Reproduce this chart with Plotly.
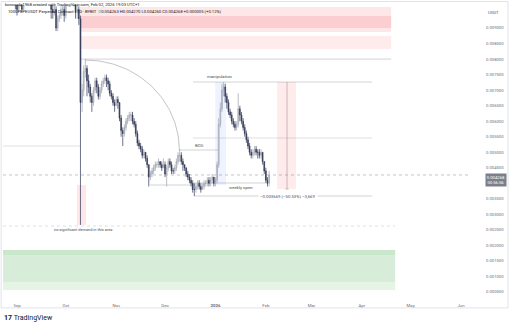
import numpy as np
import pandas as pd
import plotly.graph_objects as go

# ---------------- data (daily candles, 1000PEPEUSDT perp) ----------------
dates = pd.date_range("2025-08-23", "2026-02-03", freq="D")

closes = [
    # Aug 23-31
    0.0112, 0.0110, 0.0104, 0.0106, 0.0105, 0.0104, 0.0100, 0.0101, 0.0099,
    # Sep
    0.0096, 0.0099, 0.0098, 0.0096, 0.0099, 0.0100, 0.0101, 0.0104, 0.0105, 0.0108,
    0.0111, 0.0114, 0.0113, 0.0110, 0.0105, 0.0107, 0.0110, 0.0111, 0.0105, 0.0105,
    0.0102, 0.0096, 0.0095, 0.0096, 0.0090, 0.0093, 0.0094, 0.0096, 0.0096, 0.0094,
    # Oct
    0.0098, 0.0101, 0.0102, 0.0100, 0.0101, 0.0100, 0.0095, 0.0096, 0.0093, 0.0066,
    0.0070, 0.0076, 0.0077, 0.0073, 0.0071, 0.0068, 0.0066, 0.0070, 0.0073, 0.0071,
    0.0068, 0.0070, 0.0072, 0.0073, 0.0074, 0.0073, 0.0072, 0.0069, 0.0068, 0.0066,
    0.0065,
    # Nov
    0.0067, 0.0066, 0.0061, 0.0057, 0.0056, 0.0058, 0.0060, 0.0061, 0.0062, 0.0062,
    0.0060, 0.0059, 0.0056, 0.0053, 0.0052, 0.0051, 0.0049, 0.0050, 0.0048, 0.0046,
    0.0042, 0.0043, 0.0044, 0.0045, 0.0046, 0.0046, 0.0047, 0.0046, 0.0045, 0.0046,
    # Dec
    0.0043, 0.0045, 0.0047, 0.0046, 0.0044, 0.0044, 0.0045, 0.0047, 0.0049, 0.0049,
    0.0047, 0.0046, 0.0045, 0.0043, 0.0042, 0.0041, 0.0040, 0.0038, 0.0038, 0.0039,
    0.0040, 0.0039, 0.0038, 0.0039, 0.0040, 0.0040, 0.0041, 0.0040, 0.0041, 0.0042,
    0.0040,
    # Jan
    0.0041, 0.0046, 0.0059, 0.0064, 0.0070, 0.0071, 0.0068, 0.0066, 0.0063, 0.0062,
    0.0060, 0.0059, 0.0058, 0.0059, 0.0064, 0.0062, 0.0060, 0.0058, 0.0056, 0.0054,
    0.0052, 0.0050, 0.0049, 0.0050, 0.0051, 0.0050, 0.0050, 0.0049, 0.0050, 0.0047,
    0.0044,
    # Feb 1-3
    0.0041, 0.0040, 0.004268,
]

highs = [
    0.0116, 0.0114, 0.0111, 0.0108, 0.0108, 0.0107, 0.0105, 0.0102, 0.0102,
    0.0100, 0.0100, 0.0101, 0.0099, 0.0101, 0.0101, 0.0102, 0.0106, 0.0107, 0.0110,
    0.0113, 0.0116, 0.0117, 0.0115, 0.0111, 0.0108, 0.0112, 0.0113, 0.0111, 0.0107,
    0.0106, 0.0102, 0.0098, 0.0098, 0.0097, 0.0094, 0.0095, 0.0097, 0.0098, 0.0097,
    0.0100, 0.0103, 0.0105, 0.0103, 0.0104, 0.0104, 0.0101, 0.0098, 0.0097, 0.0094,
    0.0072, 0.0078, 0.0080, 0.0078, 0.0075, 0.0072, 0.0069, 0.0071, 0.0074, 0.0074,
    0.0072, 0.0071, 0.0073, 0.0074, 0.0075, 0.0075, 0.0074, 0.0073, 0.0070, 0.0069,
    0.0067,
    0.0068, 0.0068, 0.0066, 0.0062, 0.0058, 0.0059, 0.0061, 0.0062, 0.0063, 0.0063,
    0.0063, 0.0061, 0.0060, 0.0057, 0.0054, 0.0053, 0.0052, 0.0051, 0.0050, 0.0049,
    0.0046, 0.0044, 0.0045, 0.0046, 0.0047, 0.0047, 0.0048, 0.0047, 0.0047, 0.0048,
    0.0047, 0.0046, 0.0048, 0.0048, 0.0047, 0.0045, 0.0046, 0.0048, 0.0050, 0.0051,
    0.0050, 0.0048, 0.0046, 0.0045, 0.0044, 0.0043, 0.0042, 0.0041, 0.0040, 0.0040,
    0.0041, 0.0041, 0.0040, 0.0040, 0.0041, 0.0041, 0.0042, 0.0042, 0.0042, 0.0043,
    0.0042,
    0.0042, 0.0047, 0.0061, 0.0066, 0.0072, 0.00726, 0.0072, 0.0069, 0.0067, 0.0064,
    0.0063, 0.0061, 0.0060, 0.0060, 0.0069, 0.0065, 0.0063, 0.0061, 0.0059, 0.0057,
    0.0055, 0.0053, 0.0051, 0.0051, 0.0052, 0.0052, 0.0051, 0.0051, 0.0051, 0.0050,
    0.0047,
    0.0045, 0.0042, 0.0044,
]

lows = [
    0.0109, 0.0107, 0.0102, 0.0102, 0.0103, 0.0102, 0.0098, 0.0098, 0.0096,
    0.0094, 0.0095, 0.0097, 0.0095, 0.0096, 0.0098, 0.0099, 0.0100, 0.0102, 0.0104,
    0.0107, 0.0110, 0.0111, 0.0108, 0.0103, 0.0104, 0.0104, 0.0108, 0.0103, 0.0103,
    0.0100, 0.0093, 0.0093, 0.0094, 0.0089, 0.0089, 0.0092, 0.0093, 0.0094, 0.0092,
    0.0093, 0.0097, 0.0100, 0.0098, 0.0099, 0.0097, 0.0093, 0.0093, 0.0091, 0.00266,
    0.0063, 0.0068, 0.0074, 0.0068, 0.0069, 0.0066, 0.0063, 0.0065, 0.0069, 0.0069,
    0.0067, 0.0067, 0.0069, 0.0071, 0.0072, 0.0071, 0.0070, 0.0068, 0.0067, 0.0065,
    0.0063,
    0.0065, 0.0064, 0.0060, 0.0055, 0.0052, 0.0055, 0.0057, 0.0059, 0.0060, 0.0060,
    0.0059, 0.0058, 0.0055, 0.0052, 0.0051, 0.0050, 0.0048, 0.0048, 0.0047, 0.0045,
    0.0039, 0.0041, 0.0042, 0.0043, 0.0044, 0.0045, 0.0045, 0.0045, 0.0044, 0.0045,
    0.0042, 0.0039, 0.0044, 0.0045, 0.0043, 0.0043, 0.0043, 0.0044, 0.0046, 0.0047,
    0.0046, 0.0044, 0.0044, 0.0042, 0.0041, 0.0040, 0.0039, 0.0037, 0.00359, 0.0037,
    0.0038, 0.0038, 0.0037, 0.0038, 0.0038, 0.0039, 0.0039, 0.0039, 0.0039, 0.0040,
    0.0039,
    0.0039, 0.0040, 0.0045, 0.0058, 0.0063, 0.0068, 0.0066, 0.0064, 0.0062, 0.0061,
    0.0059, 0.0058, 0.0057, 0.0057, 0.0058, 0.0060, 0.0059, 0.0057, 0.0055, 0.0053,
    0.0051, 0.0049, 0.0048, 0.0048, 0.0049, 0.0049, 0.0048, 0.0048, 0.0048, 0.0046,
    0.0043,
    0.0040, 0.0039, 0.0039,
]

first_open = 0.0114
opens = [first_open] + closes[:-1]   # 24/7 market: open = previous close

price_ticks = [round(0.0005 * i, 6) for i in range(1, 19)]
price_ticktext = [f"{v:.6f}" for v in price_ticks]
month_ticks = ["2025-09-01", "2025-10-01", "2025-11-01", "2025-12-01", "2026-01-01",
               "2026-02-01", "2026-03-01", "2026-04-01", "2026-05-01", "2026-06-01"]
month_labels = ["Sep", "Oct", "Nov", "Dec", "<b>2026</b>", "Feb", "Mar", "Apr", "May", "Jun"]

last_price = closes[-1]

# ---------------- figure ----------------
X0, X1 = "2025-08-23 09:00", "2026-06-06 12:00"
Y0, Y1 = 0.000307, 0.009741

fig = go.Figure()

# arc drawing (curve tool)
t = np.linspace(0, np.pi / 2, 60)
arc_center = pd.Timestamp("2025-10-13")
arc_x = [arc_center + pd.Timedelta(days=float(57.8 * np.sin(a))) for a in t]
arc_y = 0.00507 + 0.002898 * np.cos(t)
fig.add_trace(go.Scatter(x=arc_x, y=arc_y, mode="lines",
                         line=dict(color="#a9abb3", width=0.7), hoverinfo="skip"))

fig.add_trace(go.Candlestick(
    x=dates, open=opens, high=highs, low=lows, close=closes,
    increasing=dict(line=dict(color="#9ea2ad", width=0.7), fillcolor="#d6d9e0"),
    decreasing=dict(line=dict(color="#2e3555", width=0.7), fillcolor="#2e3555"),
    whiskerwidth=0,
))

GREY = "#b2b5be"
shapes = []
def rect(x0, x1, y0, y1, color, layer="below"):
    shapes.append(dict(type="rect", xref="x", yref="y", x0=x0, x1=x1, y0=y0, y1=y1,
                       fillcolor=color, line=dict(width=0), layer=layer))
def hline(x0, x1, y, color=GREY, width=0.6, dash="solid"):
    shapes.append(dict(type="line", xref="x", yref="y", x0=x0, x1=x1, y0=y, y1=y,
                       line=dict(color=color, width=width, dash=dash), layer="below"))

# supply zones (top)
rect("2025-10-09 18:00", "2026-04-19", 0.008871, 0.009676, "rgba(242,54,69,0.12)")
rect("2025-10-09 18:00", "2026-04-19", 0.0090, 0.009386, "rgba(242,54,69,0.14)")
rect("2025-10-09 18:00", "2026-04-19", 0.008324, 0.008742, "rgba(242,54,69,0.10)")
hline("2025-10-10", "2026-04-19", 0.0080)
# demand zone (bottom)
rect(X0, "2026-04-21 12:00", 0.001691, 0.001852, "rgba(76,175,80,0.30)")
rect(X0, "2026-04-21 12:00", 0.000822, 0.001691, "rgba(76,175,80,0.22)")
rect(X0, "2026-04-21 12:00", 0.000564, 0.000822, "rgba(76,175,80,0.14)")
hline(X0, "2026-04-21 12:00", 0.002625, color="#c8cad0", dash="dot")
hline(X0, "2025-10-09 18:00", 0.0052, color="#c8cad0")
# crash wick highlight
rect("2025-10-07 22:00", "2025-10-13 10:00", 0.002657, 0.003945, "rgba(242,54,69,0.12)")
# structure lines
hline("2025-12-09 14:00", "2026-01-02 14:00", 0.005072)
hline("2025-11-21 20:00", "2025-12-19 12:00", 0.003945)
hline("2025-12-18 05:00", "2026-01-31 12:00", 0.00401)
hline("2025-12-18 05:00", "2026-04-07 07:00", 0.007261)
hline("2025-12-18 05:00", "2026-04-07 07:00", 0.005458, color="#c8cad0")
hline("2025-12-18 22:00", "2026-04-07 07:00", 0.003591)
rect("2025-12-31 19:00", "2026-01-07 12:00", 0.003945, 0.007261, "rgba(41,98,255,0.08)")
# price range tool
rect("2026-02-07 22:00", "2026-02-19 14:00", 0.003816, 0.007261, "rgba(242,54,69,0.10)")
shapes.append(dict(type="line", xref="x", yref="y", x0="2026-02-14", x1="2026-02-14",
                   y0=0.007261, y1=0.003816, line=dict(color="#c99aa0", width=0.7)))
hline("2026-02-13", "2026-02-15", 0.003816, color="#c99aa0", width=0.7)
# current price line
shapes.append(dict(type="line", xref="paper", yref="y", x0=0, x1=1, y0=last_price, y1=last_price,
                   line=dict(color="#9598a1", width=0.6, dash="dot"), layer="below"))
# frame
shapes.append(dict(type="rect", xref="paper", yref="paper", x0=-0.004, x1=1.0815, y0=-0.0338, y1=1.012,
                   line=dict(color="#e0e3eb", width=1), fillcolor="rgba(0,0,0,0)", layer="below"))

TXT = "#4a4e59"
FONT = "Roboto"
ann = []
def label(x, y, text, size=4.3, color=TXT, **kw):
    d = dict(x=x, y=y, xref="x", yref="y", text=text, showarrow=False,
             font=dict(size=size, color=color, family=FONT))
    d.update(kw)
    ann.append(d)

label("2026-01-03 20:00", 0.007261, "manipulation", yanchor="bottom", yshift=1)
label("2025-12-22", 0.005072, "BOS", yanchor="bottom", yshift=0)
label("2026-01-16 20:00", 0.00401, "weekly open", yanchor="top", yshift=0)
label("2026-02-14 16:00", 0.003591, "\u22120.003669 (\u221250.53%) \u22123,669", bgcolor="white")
label("2025-10-11 14:00", 0.0025, "no significant demand in this area", size=3.9, yanchor="middle")

# header
ann.append(dict(xref="paper", yref="paper", x=0, y=1, xanchor="left", yanchor="middle", yshift=1,
                xshift=0, text="koncorde1968 created with TradingView.com, Feb 02, 2026 19:03 UTC+1",
                showarrow=False, font=dict(size=4.2, color="#131722", family=FONT)))
ann.append(dict(xref="paper", yref="paper", x=0, y=1, xanchor="left", yanchor="middle", yshift=-6,
                xshift=3, text="1000PEPEUSDT Perpetual Contract · 1D · BYBIT  "
                "<span style='color:#22ab94'>O</span>0.004263 H0.004270 L0.004260 C0.004268 +0.000005 (+0.12%)",
                showarrow=False, font=dict(size=4.2, color="#131722", family=FONT)))
# USDT label
ann.append(dict(xref="paper", yref="paper", x=1, y=1, xanchor="left", yanchor="middle", xshift=16, yshift=-7,
                text="USDT", showarrow=False, font=dict(size=4.2, color="#555", family=FONT)))
# last price box
ann.append(dict(xref="paper", yref="y", x=1, y=last_price, xanchor="left", yanchor="top", xshift=15, yshift=2,
                text="0.004268<br>00:56:56", showarrow=False, bgcolor="#7b7f8c", borderpad=0.8,
                font=dict(size=4.2, color="white", family=FONT)))
# TradingView logo text
ann.append(dict(xref="paper", yref="paper", x=0, y=0, xanchor="left", yanchor="middle", xshift=-1, yshift=-20,
                text="<b>17</b> TradingView", showarrow=False,
                font=dict(size=7, color="#131722", family=FONT)))

fig.update_layout(
    width=512, height=325,
    margin=dict(l=3, r=42, t=5, b=27),
    paper_bgcolor="white", plot_bgcolor="white",
    showlegend=False,
    shapes=shapes, annotations=ann,
    xaxis=dict(range=[X0, X1], rangeslider=dict(visible=False), showgrid=False, zeroline=False,
               tickmode="array", tickvals=month_ticks, ticktext=month_labels, ticks="",
               tickfont=dict(size=4.3, color="#6a6d78", family=FONT), ticklabelstandoff=4,
               showline=False),
    yaxis=dict(range=[Y0, Y1], side="right", showgrid=False, zeroline=False,
               tickmode="array", tickvals=price_ticks, ticktext=price_ticktext, ticks="",
               tickfont=dict(size=4.2, color="#6a6d78", family=FONT), ticklabelstandoff=15,
               showline=False),
)

fig.write_html("out.html")
